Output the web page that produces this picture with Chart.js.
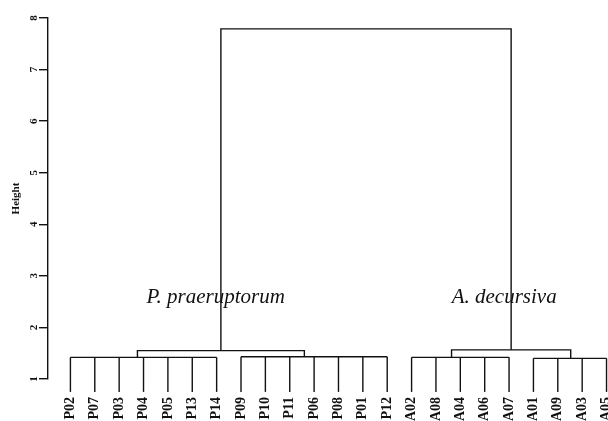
<!DOCTYPE html>
<html>
<head>
<meta charset="utf-8">
<script src="https://cdn.jsdelivr.net/npm/chart.js@4.4.1/dist/chart.umd.min.js"></script>
<style>
  html, body { margin: 0; padding: 0; background: #fff; overflow: hidden; }
  #wrap { width: 608px; height: 421px; }
</style>
</head>
<body>
<div id="wrap"><canvas id="dendro"></canvas></div>
<script>
// leaves in plot order (x = 1..23)
const leaves = ["P02", "P07", "P03", "P04", "P05", "P13", "P14",
                "P09", "P10", "P11", "P06", "P08", "P01", "P12",
                "A02", "A08", "A04", "A06", "A07",
                "A01", "A09", "A03", "A05"];

// lowest clusters: leaf range, merge height, node position
const groupFirst  = [1, 8, 15, 20];
const groupLast   = [7, 14, 19, 23];
const groupHeight = [1.42, 1.43, 1.42, 1.40];
const groupPos    = [3.75, 10.6, 16.64, 21.53];

// species clades (pairs of groups) and root
const cladeGroups = [[0, 1], [2, 3]];
const cladeHeight = [1.55, 1.565];
const rootHeight = 7.79;
const leafEnd = 0.75;

const yTicks = [1, 2, 3, 4, 5, 6, 7, 8];
const cladeNames = ["P. praeruptorum", "A. decursiva"];
const cladeLabelX = [6.96, 18.8];
const cladeLabelY = 2.47;

// build segments of the rectangle dendrogram
let segs = [];
for (let g = 0; g < groupFirst.length; g++) {
  segs.push([{x: groupFirst[g], y: groupHeight[g]}, {x: groupLast[g], y: groupHeight[g]}]);
  for (let i = groupFirst[g]; i <= groupLast[g]; i++) {
    segs.push([{x: i, y: leafEnd}, {x: i, y: groupHeight[g]}]);
  }
}
let cladePos = [];
cladeGroups.forEach(function (pair, c) {
  const a = pair[0], b = pair[1];
  segs.push([{x: groupPos[a], y: groupHeight[a]}, {x: groupPos[a], y: cladeHeight[c]},
             {x: groupPos[b], y: cladeHeight[c]}, {x: groupPos[b], y: groupHeight[b]}]);
  cladePos.push((groupPos[a] + groupPos[b]) / 2);
});
segs.push([{x: cladePos[0], y: cladeHeight[0]}, {x: cladePos[0], y: rootHeight},
           {x: cladePos[1], y: rootHeight}, {x: cladePos[1], y: cladeHeight[1]}]);

const datasets = segs.map(function (s) {
  return {
    data: s,
    borderColor: "#111",
    borderWidth: 1.4,
    pointRadius: 0,
    fill: false,
    tension: 0,
    clip: false
  };
});

// species names in italics
const cladeText = {
  id: "cladeText",
  afterDatasetsDraw(chart) {
    const ctx = chart.ctx;
    const xs = chart.scales.x, ys = chart.scales.y;
    ctx.save();
    ctx.fillStyle = "#111";
    ctx.font = "italic 21px 'Liberation Serif'";
    ctx.textAlign = "center";
    ctx.textBaseline = "alphabetic";
    cladeNames.forEach(function (n, i) {
      ctx.fillText(n, xs.getPixelForValue(cladeLabelX[i]), ys.getPixelForValue(cladeLabelY));
    });
    ctx.restore();
  }
};

new Chart(document.getElementById("dendro"), {
  type: "line",
  data: { datasets: datasets },
  plugins: [cladeText],
  options: {
    responsive: true,
    maintainAspectRatio: false,
    animation: false,
    layout: { padding: { top: 18, right: 0, bottom: 0, left: 0 } },
    plugins: { legend: { display: false }, tooltip: { enabled: false } },
    scales: {
      x: {
        type: "linear",
        min: 0.08,
        max: 23.06,
        grid: { display: false, drawTicks: false },
        border: { display: false },
        afterBuildTicks: function (s) { s.ticks = leaves.map(function (_, i) { return {value: i + 1}; }); },
        afterFit: function (s) { s.height = 42; s.paddingLeft = 0; s.paddingRight = 0; },
        ticks: {
          autoSkip: false,
          minRotation: 90,
          maxRotation: 90,
          padding: 18,
          color: "#111",
          font: { family: "'Liberation Serif'", weight: "bold", size: 14 },
          callback: function (v) { return leaves[Math.round(v) - 1] || ""; }
        }
      },
      y: {
        type: "linear",
        min: 1,
        max: 8,
        afterBuildTicks: function (s) { s.ticks = yTicks.map(function (v) { return {value: v}; }); },
        afterFit: function (s) { s.width = 48; s.paddingTop = 0; s.paddingBottom = 0; },
        grid: { drawOnChartArea: false, drawTicks: true, tickLength: 9, color: "#111", lineWidth: 1.4 },
        border: { display: true, color: "#111", width: 1.4 },
        title: {
          display: true,
          text: "Height",
          color: "#111",
          padding: { top: 10, bottom: 0 },
          font: { family: "'Liberation Serif'", weight: "bold", size: 11 }
        },
        ticks: {
          minRotation: 90,
          maxRotation: 90,
          crossAlign: "center",
          padding: 2,
          color: "#111",
          font: { family: "'Liberation Serif'", weight: "bold", size: 11 }
        }
      }
    }
  }
});
</script>
</body>
</html>
